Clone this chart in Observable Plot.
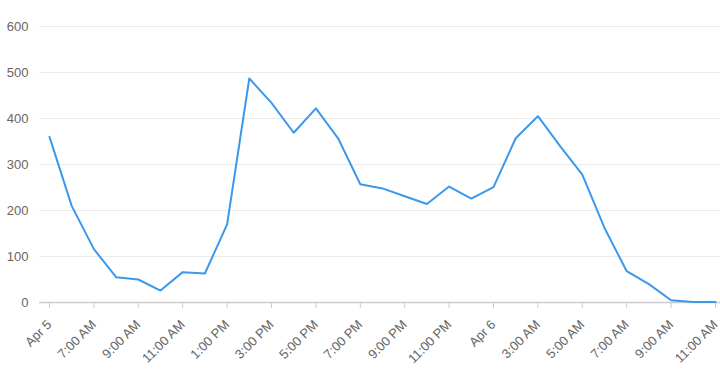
<!DOCTYPE html>
<html>
<head>
<meta charset="utf-8">
<script src="https://cdn.jsdelivr.net/npm/d3@7"></script>
<script src="https://cdn.jsdelivr.net/npm/@observablehq/plot@0.6"></script>
<style>
  html, body { margin: 0; padding: 0; background: #fff; }
  #chart svg { display: block; }
</style>
</head>
<body>
<div id="chart"></div>
<script>
// Hourly values from Apr 5 05:00 to Apr 6 11:00
const startTime = "2024-04-05T05:00:00Z";
const values = [360, 210, 116, 55, 50, 26, 66, 63, 170, 487, 434, 369, 422, 357, 257, 248, 231, 214, 252, 226, 251, 357, 405, 340, 278, 162, 68, 40, 5, 1, 1];
const tickLabels = ["Apr 5", "7:00 AM", "9:00 AM", "11:00 AM", "1:00 PM", "3:00 PM", "5:00 PM", "7:00 PM", "9:00 PM", "11:00 PM", "Apr 6", "3:00 AM", "5:00 AM", "7:00 AM", "9:00 AM", "11:00 AM"];
const yTicks = [0, 100, 200, 300, 400, 500, 600];

const t0 = new Date(startTime);
const data = values.map((v, i) => ({ time: new Date(t0.getTime() + i * 3600e3), value: v }));
const tickDates = tickLabels.map((_, i) => new Date(t0.getTime() + i * 2 * 3600e3));
const labelFor = new Map(tickDates.map((d, i) => [d.getTime(), tickLabels[i]]));

const chart = Plot.plot({
  width: 720,
  height: 370,
  marginLeft: 39,
  marginRight: 0,
  marginTop: 26,
  marginBottom: 68,
  style: { fontFamily: "Liberation Sans, Arial, sans-serif", fontSize: "13px", color: "#666", background: "#fff" },
  x: { type: "utc", domain: [tickDates[0], tickDates[tickDates.length - 1]], insetLeft: 10, insetRight: 5 },
  y: { domain: [0, 600] },
  marks: [
    Plot.ruleY(yTicks.filter(d => d > 0), { stroke: "#ebebeb", strokeWidth: 1 }),
    Plot.ruleY([0], { stroke: "#cccccc", strokeWidth: 1.5 }),
    Plot.axisY({ ticks: yTicks, tickSize: 0, tickPadding: 11, fill: "#666", fontSize: 13, label: null }),
    Plot.axisX({ ticks: tickDates, tickFormat: d => labelFor.get(d.getTime()), tickSize: 6, tickPadding: 14, stroke: "#cccccc", fill: "#666", tickRotate: -45, fontSize: 13, label: null }),
    Plot.line(data, { x: "time", y: "value", stroke: "#3b98ec", strokeWidth: 2 })
  ]
});
document.getElementById("chart").appendChild(chart);
</script>
</body>
</html>
